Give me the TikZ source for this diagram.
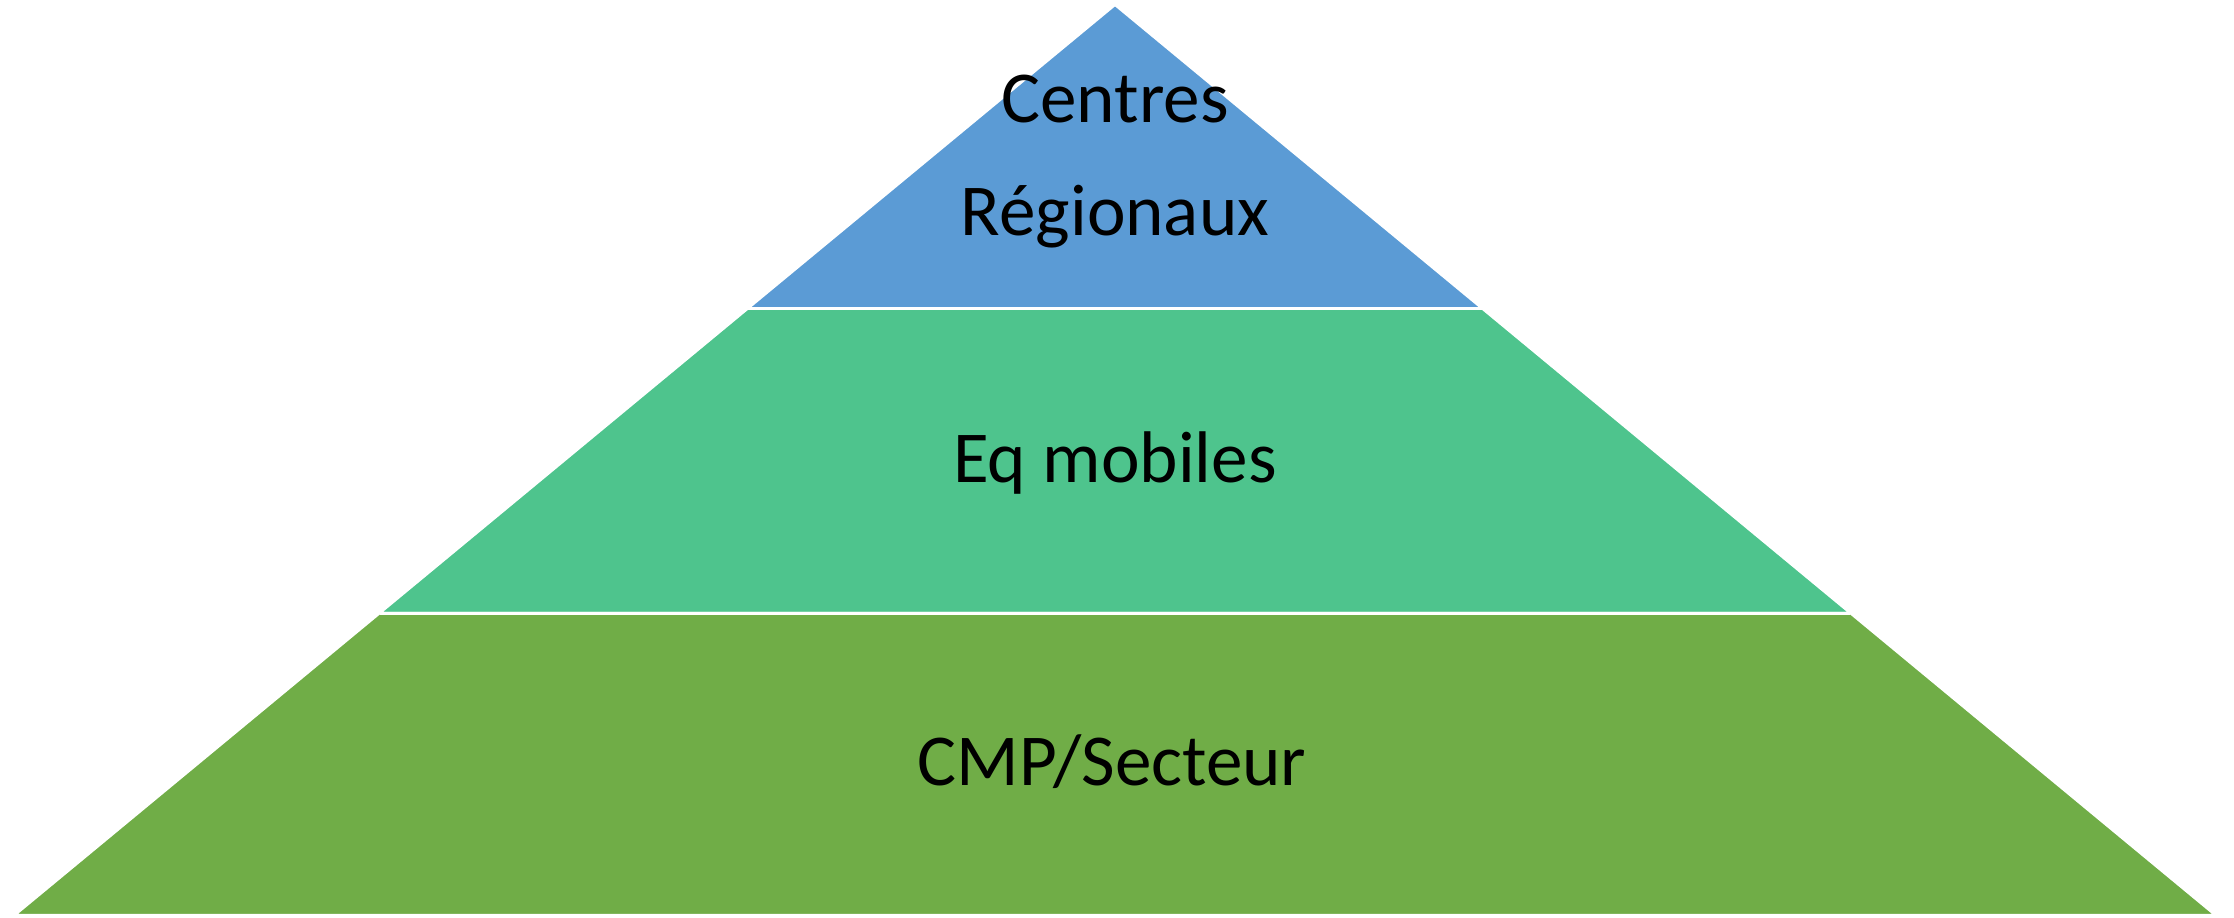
\documentclass[tikz,border=0pt]{standalone}
\usepackage{fontspec}
\newfontfamily\lblfont{Carlito}
\definecolor{topblue}{HTML}{5B9BD5}
\definecolor{midgreen}{HTML}{4EC48D}
\definecolor{lowgreen}{HTML}{70AD47}
\begin{document}
\begin{tikzpicture}
  [x=0.01cm,y=-0.01cm,
   every node/.style={font=\lblfont\fontsize{20.8}{25}\selectfont,inner sep=0pt},
   layer/.style={draw=white,line width=0.6pt},
   sep/.style={draw=white,line width=0.85pt}]
  \useasboundingbox (0,0) rectangle (2234,917);
  \coordinate (apex) at (1115,5);
  \coordinate (b1l) at (748,308.5);
  \coordinate (b1r) at (1482,308.5);
  \coordinate (b2l) at (380,613);
  \coordinate (b2r) at (1850,613);
  \coordinate (bl) at (15,915);
  \coordinate (br) at (2215,915);
  \fill[topblue,layer] (apex) -- (b1l) -- (b1r) -- cycle;
  \fill[midgreen,layer] (b1l) -- (b2l) -- (b2r) -- (b1r) -- cycle;
  \fill[lowgreen,layer] (b2l) -- (bl) -- (br) -- (b2r) -- cycle;
  \foreach \from/\to in {b1l/b1r,b2l/b2r}
    \draw[sep] (\from) -- (\to);
  \node[anchor=base] (cr1) at (1115,122) {Centres};
  \node[anchor=base] (cr2) at (1115,235) {Régionaux};
  \node[anchor=base] (eq) at (1115,482) {Eq mobiles};
  \node[anchor=base] (cmp) at (1112,785) {CMP/Secteur};
\end{tikzpicture}
\end{document}
